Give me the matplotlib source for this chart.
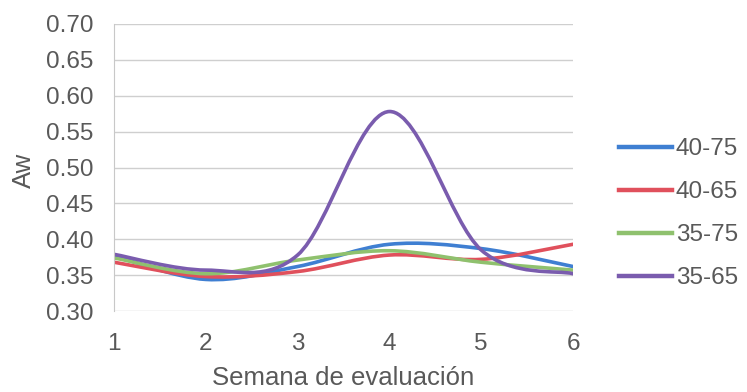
import matplotlib.pyplot as plt
from matplotlib.path import Path
from matplotlib.patches import PathPatch
from matplotlib.lines import Line2D
import numpy as np

plt.rcParams['font.family'] = ['Liberation Sans', 'DejaVu Sans']

# datos
semanas = [1, 2, 3, 4, 5, 6]
aw_40_75 = [0.377, 0.344, 0.362, 0.393, 0.387, 0.362]
aw_40_65 = [0.368, 0.348, 0.355, 0.378, 0.372, 0.393]
aw_35_75 = [0.374, 0.352, 0.371, 0.384, 0.368, 0.357]
aw_35_65 = [0.379, 0.357, 0.378, 0.578, 0.385, 0.352]

series = [
    ("40-75", aw_40_75, '#3f7fd2'),
    ("40-65", aw_40_65, '#e0505c'),
    ("35-75", aw_35_75, '#8fc16e'),
    ("35-65", aw_35_65, '#7a5cae'),
]

gris = '#595959'


def curva_suave(xs, ys):
    # curva tipo Excel (bezier con tangentes de Catmull-Rom)
    p = np.column_stack([xs, ys]).astype(float)
    n = len(p)
    verts = [p[0]]
    codes = [Path.MOVETO]
    for i in range(n - 1):
        p0 = p[i - 1] if i > 0 else p[i]
        p3 = p[i + 2] if i + 2 < n else p[i + 1]
        c1 = p[i] + (p[i + 1] - p0) / 6.0
        c2 = p[i + 1] - (p3 - p[i]) / 6.0
        verts += [c1, c2, p[i + 1]]
        codes += [Path.CURVE4] * 3
    return Path(verts, codes)


fig = plt.figure(figsize=(7.47, 3.92), dpi=100)
ax = fig.add_axes([0.1526, 0.2066, 0.6145, 0.7322])

for nombre, vals, color in series:
    ax.add_patch(PathPatch(curva_suave(semanas, vals), facecolor='none',
                           edgecolor=color, lw=2.6, capstyle='round',
                           joinstyle='round'))

ax.set_xlim(1, 6)
ax.set_ylim(0.30, 0.70)
ax.set_xticks(semanas)
ax.set_yticks(np.arange(0.30, 0.701, 0.05))
ax.set_yticklabels([f"{v:.2f}" for v in np.arange(0.30, 0.701, 0.05)])
ax.grid(axis='y', color='#cfcfcf', lw=1)
ax.set_axisbelow(True)
for s in ['top', 'right', 'bottom']:
    ax.spines[s].set_visible(False)
ax.spines['left'].set_color('#c8c8c8')
ax.tick_params(length=0, labelsize=17.5, colors=gris)
ax.tick_params(axis='y', pad=15)
ax.tick_params(axis='x', pad=16)

ax.set_xlabel("Semana de evaluación", fontsize=18.5, color=gris)
ax.set_ylabel("Aw", fontsize=18.5, color=gris)
ax.xaxis.set_label_coords(0.5, -0.19)
ax.yaxis.set_label_coords(-0.17, 0.49)

handles = [Line2D([0], [0], color=c, lw=3.2) for _, _, c in series]
leg = fig.legend(handles, [n for n, _, _ in series], loc='center left',
                 bbox_to_anchor=(0.799, 0.455), frameon=False, fontsize=17.5,
                 handlelength=2.2, handletextpad=0.15, labelspacing=0.86,
                 labelcolor=gris)

fig.savefig('out.png', dpi=100)
